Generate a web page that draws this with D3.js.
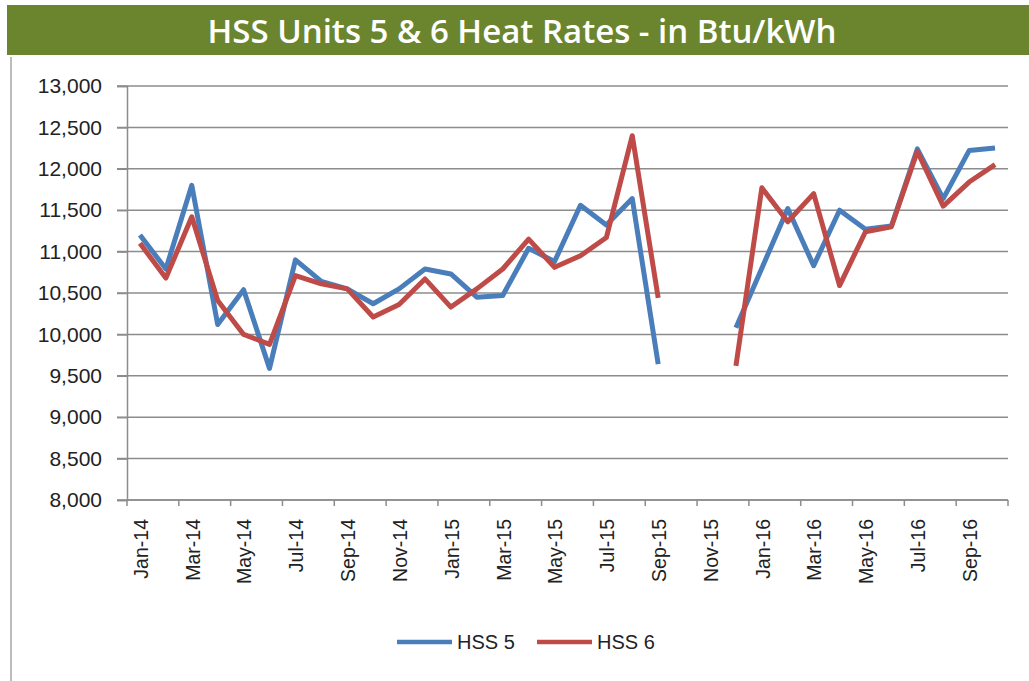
<!DOCTYPE html>
<html>
<head>
<meta charset="utf-8">
<script src="https://cdn.jsdelivr.net/npm/d3@7"></script>
<style>
  body { margin: 0; background: #fff; }
  svg { display: block; }
</style>
</head>
<body>
<div id="chart"></div>
<script>
var title = "HSS Units 5 & 6 Heat Rates - in Btu/kWh";

// months Jan-14 .. Oct-16
var months = ["Jan-14","Feb-14","Mar-14","Apr-14","May-14","Jun-14","Jul-14","Aug-14","Sep-14","Oct-14","Nov-14","Dec-14",
              "Jan-15","Feb-15","Mar-15","Apr-15","May-15","Jun-15","Jul-15","Aug-15","Sep-15","Oct-15","Nov-15","Dec-15",
              "Jan-16","Feb-16","Mar-16","Apr-16","May-16","Jun-16","Jul-16","Aug-16","Sep-16","Oct-16"];

var hss5 = [11200, 10790, 11800, 10120, 10540, 9590, 10900, 10640, 10550, 10370, 10550, 10790,
            10730, 10450, 10470, 11040, 10880, 11560, 11320, 11640, 9640, null, null, 10080,
            10800, 11520, 10830, 11500, 11270, 11310, 12240, 11640, 12220, 12250];

var hss6 = [11100, 10680, 11420, 10410, 10000, 9880, 10710, 10610, 10550, 10210, 10360, 10670,
            10330, 10550, 10790, 11150, 10810, 10950, 11170, 12400, 10440, null, null, 9620,
            11770, 11360, 11700, 10590, 11240, 11300, 12210, 11550, 11840, 12050];

var yTicks = [8000, 8500, 9000, 9500, 10000, 10500, 11000, 11500, 12000, 12500, 13000];

var seriesNames = ["HSS 5", "HSS 6"];
var seriesColors = ["#4a7ebb", "#be4b48"];

var W = 1029, H = 681;
var svg = d3.select("#chart").append("svg")
    .attr("width", W)
    .attr("height", H);

// title bar
svg.append("rect")
    .attr("x", 7).attr("y", 5)
    .attr("width", W - 7).attr("height", 50)
    .attr("fill", "#6b852e");

svg.append("text")
    .attr("x", 522).attr("y", 31)
    .attr("dy", "0.36em")
    .attr("text-anchor", "middle")
    .attr("fill", "#fff")
    .style("font-family", "'Open Sans', sans-serif")
    .style("font-weight", 600)
    .style("font-size", "33px")
    .text(title);

// left frame edge
svg.append("line")
    .attr("x1", 11).attr("x2", 11)
    .attr("y1", 57).attr("y2", H)
    .attr("stroke", "#a6a6a6")
    .attr("stroke-width", 1.5);

var x = d3.scaleBand()
    .domain(months)
    .range([127, 1008]);

var y = d3.scaleLinear()
    .domain([8000, 13000])
    .range([500, 86]);

// gridlines
svg.append("g")
    .selectAll("line")
    .data(yTicks)
    .enter()
    .append("line")
    .attr("x1", 117).attr("x2", 1008)
    .attr("y1", function(d) { return y(d); })
    .attr("y2", function(d) { return y(d); })
    .attr("stroke", "#8c8c8c")
    .attr("stroke-width", 1.5);

// y axis
var yAxis = svg.append("g")
    .attr("transform", "translate(127,0)")
    .call(d3.axisLeft(y).tickValues(yTicks).tickSize(10).tickPadding(15)
        .tickFormat(d3.format(",")));
yAxis.select(".domain").attr("stroke", "#8c8c8c").attr("stroke-width", 1.5);
yAxis.selectAll(".tick line").attr("stroke", "#8c8c8c").attr("stroke-width", 1.5);
yAxis.selectAll("text")
    .attr("fill", "#222")
    .style("font-family", "'Liberation Sans', Arial, sans-serif")
    .style("font-size", "21px");

// x axis: ticks every two months, between categories
var xAxis = svg.append("g")
    .attr("transform", "translate(0,500)");
xAxis.append("line")
    .attr("x1", 127).attr("x2", 1008)
    .attr("y1", 0).attr("y2", 0)
    .attr("stroke", "#8c8c8c")
    .attr("stroke-width", 1.5);
var tickIdx = d3.range(0, months.length + 1, 2);
xAxis.selectAll("line.tk")
    .data(tickIdx)
    .enter()
    .append("line")
    .attr("class", "tk")
    .attr("x1", function(i) { return 127 + i * x.bandwidth(); })
    .attr("x2", function(i) { return 127 + i * x.bandwidth(); })
    .attr("y1", 0).attr("y2", 6)
    .attr("stroke", "#8c8c8c")
    .attr("stroke-width", 1.5);
xAxis.selectAll("text")
    .data(months.filter(function(m, i) { return i % 2 === 0; }))
    .enter()
    .append("text")
    .attr("transform", function(d) {
        return "translate(" + (x(d) + x.bandwidth() / 2 + 1) + ",19) rotate(-90)";
    })
    .attr("dy", "0.35em")
    .attr("text-anchor", "end")
    .attr("fill", "#222")
    .style("font-family", "'Liberation Sans', Arial, sans-serif")
    .style("font-size", "19.5px")
    .text(function(d) { return d; });

// lines
var line = d3.line()
    .defined(function(d) { return d.v !== null; })
    .x(function(d) { return x(d.m) + x.bandwidth() / 2; })
    .y(function(d) { return y(d.v); });

[hss5, hss6].forEach(function(vals, s) {
    var pts = months.map(function(m, i) { return { m: m, v: vals[i] }; });
    svg.append("path")
        .datum(pts)
        .attr("d", line)
        .attr("fill", "none")
        .attr("stroke", seriesColors[s])
        .attr("stroke-width", 5)
        .attr("stroke-linejoin", "round");
});

// legend
var legend = svg.append("g")
    .attr("transform", "translate(397,642)");
var lx = [0, 140];
seriesNames.forEach(function(name, s) {
    var g = legend.append("g").attr("transform", "translate(" + lx[s] + ",0)");
    g.append("line")
        .attr("x1", 0).attr("x2", 55)
        .attr("y1", 0).attr("y2", 0)
        .attr("stroke", seriesColors[s])
        .attr("stroke-width", 4.5);
    g.append("text")
        .attr("x", 60)
        .attr("dy", "0.36em")
        .attr("fill", "#222")
        .style("font-family", "'Liberation Sans', Arial, sans-serif")
        .style("font-size", "20px")
        .text(name);
});
</script>
</body>
</html>
